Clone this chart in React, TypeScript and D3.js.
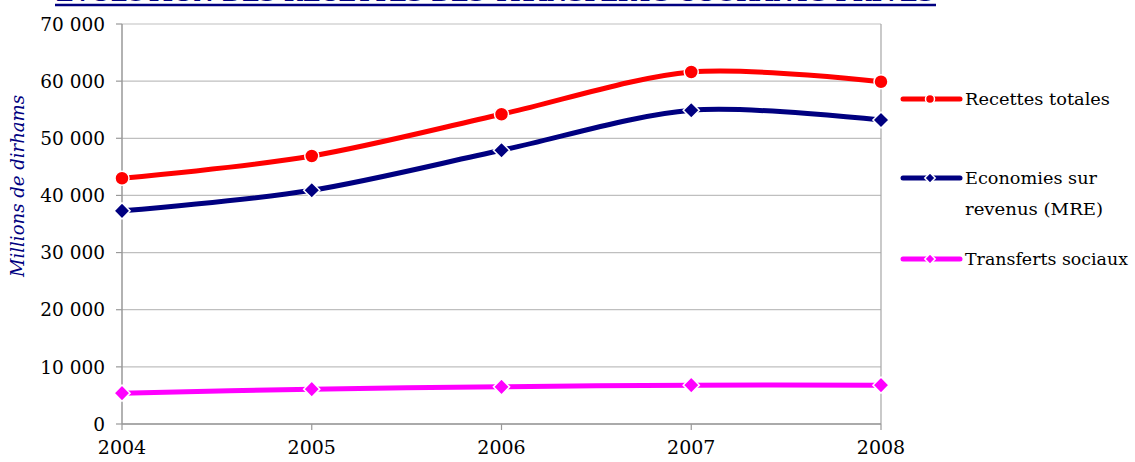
import React from "react";
import * as d3 from "d3";

const years = [2004, 2005, 2006, 2007, 2008];
const recettesTotales = [43000, 46900, 54200, 61600, 59900];
const economiesMRE = [37300, 40900, 47900, 54900, 53200];
const transfertsSociaux = [5400, 6100, 6500, 6800, 6800];
const yTicks = [0, 10000, 20000, 30000, 40000, 50000, 60000, 70000];

const series = [
  { name: "Recettes totales", lines: ["Recettes totales"], widths: [145], values: recettesTotales, color: "#FF0000", marker: "circle", legendY: 99 },
  { name: "Economies sur revenus (MRE)", lines: ["Economies sur", "revenus (MRE)"], widths: [132, 138], values: economiesMRE, color: "#000080", marker: "diamond", legendY: 178 },
  { name: "Transferts sociaux", lines: ["Transferts sociaux"], widths: [163], values: transfertsSociaux, color: "#FF00FF", marker: "diamond", legendY: 259 },
];

const W = 1135, H = 462;
const left = 122, right = 881, top = 24, bottom = 424;
const tf = { fontFamily: '"DejaVu Serif", serif' };

function Marker({ type, x, y, color, r }: { type: string; x: number; y: number; color: string; r: number }) {
  if (type === "circle") {
    return <circle cx={x} cy={y} r={r} fill={color} stroke="#fff" strokeWidth={1.5} />;
  }
  const d = r * 1.15;
  return (
    <path d={`M${x},${y - d}L${x + d},${y}L${x},${y + d}L${x - d},${y}Z`} fill={color} stroke="#fff" strokeWidth={1.5} />
  );
}

export default function App() {
  const x = d3.scaleLinear().domain([2004, 2008]).range([left, right]);
  const y = d3.scaleLinear().domain([0, 70000]).range([bottom, top]);
  const line = d3
    .line<number>()
    .x((_, i) => x(years[i]))
    .y((v) => y(v))
    .curve(d3.curveCardinal.tension(0.1));

  return (
    <svg width={W} height={H} style={{ position: "absolute", left: 0, top: 0, background: "#fff" }}>
      {/* Title, cut off at the top edge as in the reference */}
      <text x={56} y={1} fontSize={21} fontWeight="bold" fill="#000080" textLength={878} lengthAdjust="spacingAndGlyphs" style={tf}>
        EVOLUTION DES RECETTES DES TRANSFERTS COURANTS PRIVES
      </text>
      <line x1={55} x2={936} y1={5} y2={5} stroke="#000080" strokeWidth={2.5} />

      {yTicks.map((t) => (
        <line key={t} x1={left} x2={right} y1={y(t)} y2={y(t)} stroke="#BFBFBF" strokeWidth={1.2} />
      ))}
      <line x1={right} x2={right} y1={top} y2={bottom} stroke="#A6A6A6" strokeWidth={1.2} />

      <line x1={left} x2={left} y1={top} y2={bottom} stroke="#999" strokeWidth={1.5} />
      {yTicks.map((t) => (
        <g key={"yt" + t}>
          <line x1={left - 6} x2={left} y1={y(t)} y2={y(t)} stroke="#999" strokeWidth={1.2} />
          <text x={105} y={y(t)} dy="0.36em" textAnchor="end" fontSize={18.5} fill="#000" style={tf}>
            {d3.format(",")(t).replace(/,/g, " ")}
          </text>
        </g>
      ))}

      <line x1={left} x2={right} y1={bottom} y2={bottom} stroke="#999" strokeWidth={1.5} />
      {years.map((yr) => (
        <g key={"xt" + yr}>
          <line x1={x(yr)} x2={x(yr)} y1={bottom} y2={bottom + 6} stroke="#999" strokeWidth={1.2} />
          <text x={x(yr)} y={454} textAnchor="middle" fontSize={19} fill="#000" style={tf}>
            {yr}
          </text>
        </g>
      ))}

      <text
        transform={`translate(24,186) rotate(-90)`}
        textAnchor="middle"
        fontSize={19}
        fontStyle="italic"
        fill="#000080"
        textLength={182}
        lengthAdjust="spacingAndGlyphs"
        style={tf}
      >
        Millions de dirhams
      </text>

      {series.map((s) => (
        <g key={s.name}>
          <path d={line(s.values) || ""} fill="none" stroke={s.color} strokeWidth={5} strokeLinejoin="round" />
          {s.values.map((v, i) => (
            <Marker key={i} type={s.marker} x={x(years[i])} y={y(v)} color={s.color} r={7} />
          ))}
        </g>
      ))}

      {series.map((s) => (
        <g key={"lg" + s.name}>
          <line x1={903} x2={960} y1={s.legendY} y2={s.legendY} stroke={s.color} strokeWidth={5} strokeLinecap="round" />
          <Marker type={s.marker} x={930} y={s.legendY} color={s.color} r={4.5} />
          {s.lines.map((ln, j) => (
            <text
              key={j}
              x={965}
              y={s.legendY + j * 31}
              dy="0.36em"
              fontSize={17}
              fill="#000"
              textLength={s.widths[j]}
              lengthAdjust="spacingAndGlyphs"
              style={tf}
            >
              {ln}
            </text>
          ))}
        </g>
      ))}
    </svg>
  );
}
